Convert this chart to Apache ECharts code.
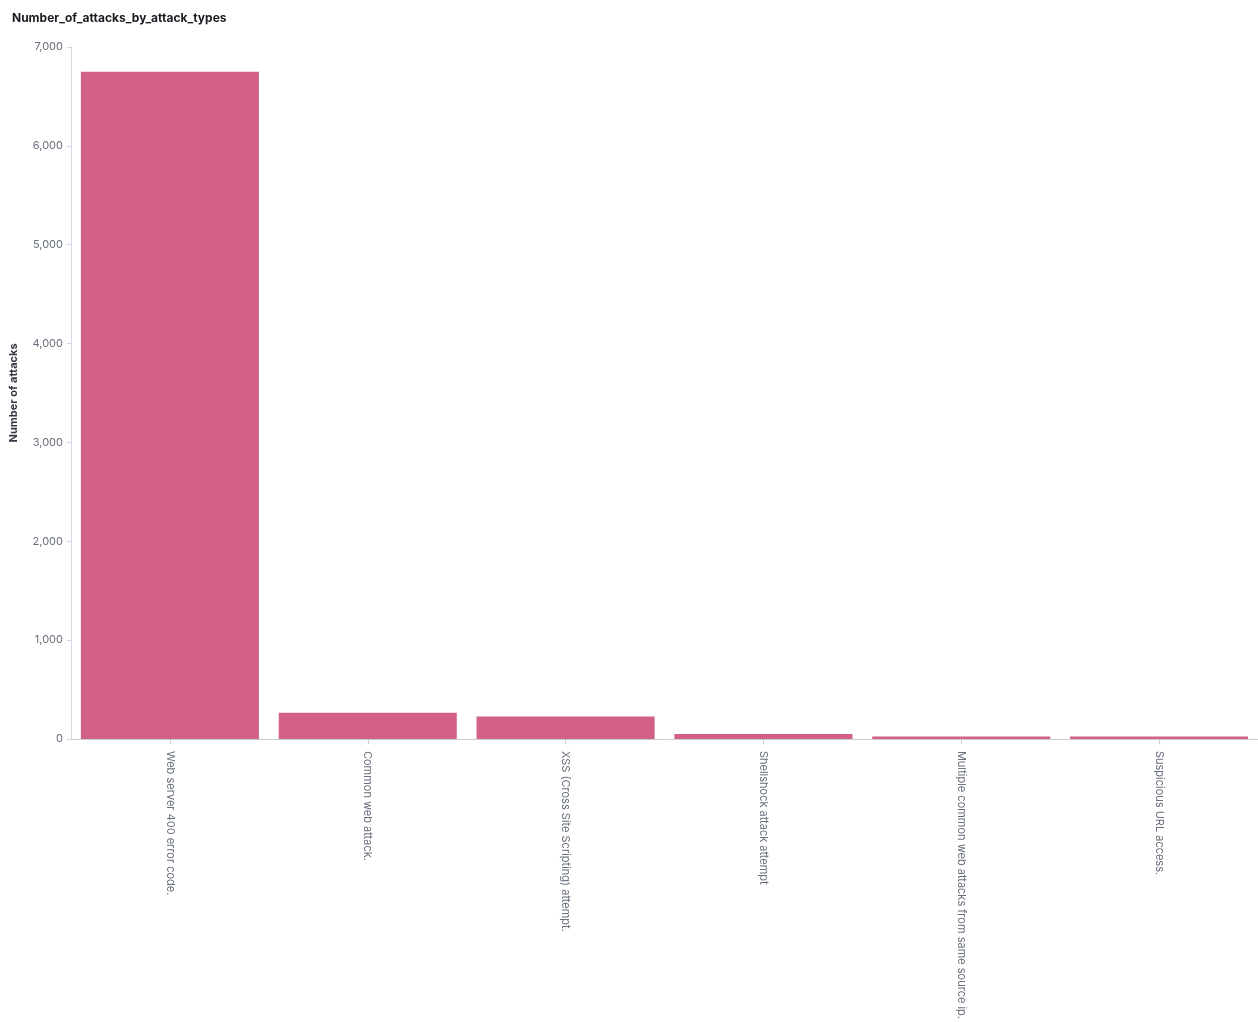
<!DOCTYPE html>
<html><head><meta charset="utf-8">
<script src="https://cdn.jsdelivr.net/npm/echarts@6/dist/echarts.min.js"></script>
<style>body{margin:0}#c{width:1258px;height:1022px}</style>
</head><body><div id="c"></div>
<script>
var categories = ["Web server 400 error code.", "Common web attack.", "XSS (Cross Site Scripting) attempt.", "Shellshock attack attempt", "Multiple common web attacks from same source ip.", "Suspicious URL access."];
var attacks = [6750, 265, 228, 51, 25, 25];

var chart = echarts.init(document.getElementById('c'));
chart.setOption({
    animation: false,
    title: {
        text: 'Number_of_attacks_by_attack_types', left: 7, top: 7,
        textStyle: {fontFamily: 'Inter', fontSize: 12, fontWeight: 'bold', color: '#1a1c21'}
    },
    grid: {left: 65, top: 47, bottom: 279, width: 1284},
    xAxis: {
        type: 'category', data: categories,
        axisLine: {lineStyle: {color: '#c8ccd4'}},
        axisTick: {show: true, alignWithLabel: true, lineStyle: {color: '#c8ccd4'}},
        axisLabel: {rotate: -90, interval: 0, color: '#69707d', fontFamily: 'Inter', fontSize: 11, margin: 12}
    },
    yAxis: {
        type: 'value', min: 0, max: 7000, interval: 1000,
        name: 'Number of attacks', nameLocation: 'middle', nameGap: 52,
        nameTextStyle: {fontFamily: 'Inter', fontSize: 11, fontWeight: 'bold', color: '#343741'},
        axisLine: {show: true, lineStyle: {color: '#d3dae6'}},
        axisTick: {show: true, length: 4, lineStyle: {color: '#d3dae6'}},
        splitLine: {show: false},
        axisLabel: {color: '#69707d', fontFamily: 'Inter', fontSize: 11,
            formatter: function (v) { return v.toLocaleString('en-US'); }}
    },
    series: [{
        type: 'bar', data: attacks, barCategoryGap: '10%',
        itemStyle: {color: '#d36086'}
    }]
});
</script></body></html>
